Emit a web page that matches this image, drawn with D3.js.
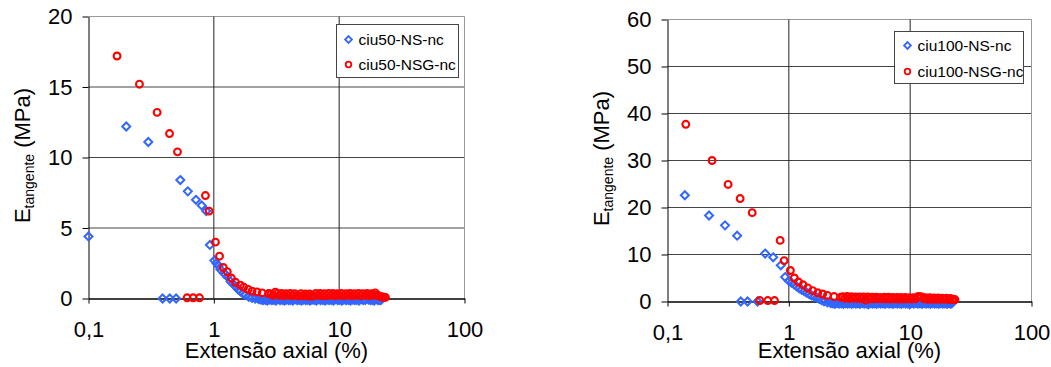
<!DOCTYPE html>
<html>
<head>
<meta charset="utf-8">
<script src="https://cdn.jsdelivr.net/npm/d3@7"></script>
<style>
  body { margin: 0; background: #fff; }
  svg { display: block; font-family: "Liberation Sans", Arial, sans-serif; }
</style>
</head>
<body>
<svg id="canvas" width="1051" height="367"></svg>
<script>
// tick values / labels
let xTicks = [0.1, 1, 10, 100];
let xTickLabels = ['0,1', '1', '10', '100'];
let yTicks50 = [0, 5, 10, 15, 20];
let yTicks100 = [0, 10, 20, 30, 40, 50, 60];

// ciu50 - NS (blue diamonds)
let ns50X = [0.1, 0.2, 0.3, 0.39, 0.445, 0.5, 0.54, 0.62, 0.72, 0.8, 0.87, 0.93, 1.01, 1.05, 1.09, 1.13, 1.2, 1.24, 1.28,
  1.36, 1.42, 1.49, 1.56, 1.63, 1.71, 1.79, 1.9, 2.02, 2.14, 2.28,
  2.38, 2.47, 2.58, 2.67, 2.79, 2.9, 3.01, 3.13, 3.26, 3.38, 3.52, 3.66, 3.8, 3.96, 4.1, 4.27, 4.45, 4.62, 4.8, 5.0,
  5.2, 5.41, 5.62, 5.85, 6.07, 6.2, 6.32, 6.58, 6.84, 7.1, 7.4, 7.7, 8.0, 8.32, 8.66, 9.0, 9.35, 9.73, 10.1, 10.5,
  10.9, 11.35, 11.8, 12.3, 12.8, 13.3, 13.8, 14.4, 15.0, 15.6, 16.2, 16.7, 17.2, 17.8, 18.4, 19.0, 19.7, 20.4, 21.0, 21.5];
let ns50Y = [4.4, 12.2, 11.1, 0, 0, 0, 8.4, 7.6, 7.0, 6.6, 6.2, 3.8, 2.7, 2.5, 2.3, 2.05, 1.8, 1.7, 1.55,
  1.2, 1.05, 0.85, 0.65, 0.5, 0.35, 0.25, 0.12, 0.05, 0, -0.05,
  -0.08, -0.12, -0.1, -0.15, -0.08, -0.12, -0.1, -0.15, -0.05, -0.12, -0.1, -0.15, -0.08, -0.12, -0.1, -0.15, -0.05, -0.12, -0.1, -0.15,
  -0.08, -0.12, -0.1, -0.15, -0.08, 0.2, -0.1, -0.15, -0.05, -0.12, -0.1, -0.15, -0.08, -0.12, -0.1, -0.15, -0.05, -0.12, -0.1, -0.15,
  -0.08, -0.12, -0.1, -0.15, -0.08, -0.12, -0.1, -0.15, -0.05, -0.12, -0.1, 0.25, -0.08, -0.12, -0.1, -0.15, -0.05, -0.12, -0.1, -0.12];

// ciu50 - NSG (red circles)
let nsg50X = [0.169, 0.255, 0.353, 0.443, 0.513, 0.612, 0.684, 0.768, 0.857, 0.917, 1.03, 1.11, 1.19, 1.28, 1.38,
  1.49, 1.63, 1.73, 1.88, 2.02, 2.21, 2.43, 2.74,
  2.86, 2.97, 3.1, 3.22, 3.35, 3.48, 3.62, 3.77, 3.92, 4.08, 4.24, 4.41, 4.58, 4.77, 4.96, 5.15, 5.36, 5.57, 5.8, 6.03,
  6.27, 6.52, 6.78, 7.05, 7.33, 7.62, 7.93, 8.25, 8.58, 8.92, 9.28, 9.65, 10.0, 10.4, 10.85, 11.3, 11.75, 12.2, 12.7, 13.2,
  13.7, 14.3, 14.85, 15.45, 16.1, 16.7, 17.4, 18.1, 18.8, 19.4, 20.0, 20.6, 21.2, 21.8, 22.4, 22.9, 23.4];
let nsg50Y = [17.2, 15.2, 13.2, 11.7, 10.4, 0.05, 0.05, 0.05, 7.3, 6.2, 4.0, 3.0, 2.2, 1.9, 1.45,
  1.15, 0.95, 0.8, 0.65, 0.52, 0.47, 0.4, 0.35,
  0.32, 0.22, 0.45, 0.35, 0.22, 0.36, 0.2, 0.34, 0.22, 0.36, 0.2, 0.34, 0.22, 0.18, 0.34, 0.2, 0.32, 0.18, 0.32, 0.16,
  0.2, 0.36, 0.22, 0.36, 0.2, 0.34, 0.2, 0.36, 0.22, 0.36, 0.2, 0.34, 0.22, 0.36, 0.2, 0.34, 0.22, 0.36, 0.2, 0.34,
  0.22, 0.36, 0.2, 0.34, 0.22, 0.36, 0.2, 0.34, 0.22, 0.4, 0.25, 0.2, 0.15, 0.12, 0.1, 0.1, 0.08];

// ciu100 - NS (blue diamonds)
let ns100X = [0.139, 0.22, 0.298, 0.375, 0.402, 0.457, 0.552, 0.638, 0.743, 0.859, 0.932, 1.0, 1.05, 1.11, 1.16, 1.22, 1.28, 1.34,
  1.4, 1.47, 1.54, 1.62, 1.7, 1.78, 1.86, 1.95, 2.08, 2.22,
  2.31, 2.4, 2.5, 2.6, 2.71, 2.82, 2.93, 3.05, 3.17, 3.3, 3.43, 3.57, 3.71, 3.86, 4.02, 4.18, 4.35, 4.52, 4.7, 4.89,
  5.08, 5.29, 5.5, 5.72, 5.95, 6.19, 6.44, 6.7, 6.96, 7.24, 7.53, 7.83, 8.15, 8.47, 8.81, 9.17, 9.53, 9.91, 10.3, 10.7,
  11.15, 11.6, 12.05, 12.55, 13.05, 13.55, 14.1, 14.7, 15.3, 15.9, 16.5, 17.2, 17.9, 18.6, 19.3, 20.1, 20.9, 21.5, 22.0];
let ns100Y = [22.6, 18.3, 16.2, 14.0, 0, 0, 0, 10.2, 9.4, 7.7, 5.2, 4.4, 4.0, 3.6, 3.2, 2.8, 2.5, 2.2,
  1.9, 1.6, 1.3, 1.06, 0.8, 0.57, 0.3, 0.06, -0.2, -0.36,
  -0.4, -0.5, -0.35, -0.45, -0.4, -0.5, -0.35, -0.45, -0.4, -0.5, -0.35, -0.45, -0.4, -0.5, -0.35, -0.45, -0.4, -0.6, -0.35, -0.45,
  -0.4, -0.5, -0.35, -0.45, -0.4, -0.5, -0.35, -0.45, -0.4, -0.5, -0.35, -0.45, -0.4, -0.5, -0.35, -0.45, -0.4, -0.6, -0.35, -0.45,
  -0.35, -0.45, -0.4, -0.5, -0.35, -0.45, -0.4, -0.5, -0.35, -0.45, -0.4, -0.5, -0.35, -0.45, -0.4, -0.5, -0.35, -0.45, -0.4];

// ciu100 - NSG (red circles)
let nsg100X = [0.1415, 0.233, 0.316, 0.397, 0.499, 0.576, 0.671, 0.762, 0.848, 0.915, 1.03, 1.11, 1.2, 1.31, 1.43,
  1.57, 1.73, 1.9, 2.08, 2.36, 2.68,
  2.79, 2.9, 3.02, 3.14, 3.27, 3.4, 3.54, 3.68, 3.83, 3.98, 4.14, 4.31, 4.48, 4.66, 4.85, 5.04, 5.24, 5.45, 5.67, 5.9,
  6.14, 6.38, 6.64, 6.9, 7.18, 7.47, 7.77, 8.08, 8.4, 8.74, 9.09, 9.45, 9.83, 10.2, 10.6, 11.05, 11.5, 11.95, 12.45, 12.95,
  13.45, 14.0, 14.55, 15.15, 15.75, 16.4, 17.05, 17.7, 18.4, 19.15, 19.9, 20.7, 21.5, 22.3, 22.9, 23.4];
let nsg100Y = [37.7, 30.0, 24.9, 21.9, 18.9, 0.2, 0.2, 0.2, 13.0, 8.7, 6.6, 5.0, 4.15, 3.55, 2.9,
  2.3, 1.85, 1.6, 1.3, 1.05, 0.9,
  1.0, 0.7, 1.05, 0.65, 1.0, 0.7, 0.95, 0.65, 0.95, 0.6, 0.95, 0.3, 0.95, 0.6, 0.9, 0.55, 0.9, 0.6, 0.85, 0.55,
  0.9, 0.55, 0.9, 0.5, 0.85, 0.55, 0.85, 0.5, 0.85, 0.5, 0.85, 0.55, 0.8, 0.5, 0.8, 0.55, 1.0, 1.05, 0.95, 0.55,
  0.8, 0.45, 0.8, 0.45, 0.75, 0.45, 0.75, 0.45, 0.7, 0.45, 0.7, 0.4, 0.65, 0.4, 0.5, 0.4];

let blue = '#3366ff';
let red = '#ff0000';

let canvas = d3.select('#canvas');

let diamond = (s) => `M0,${-s}L${s},0L0,${s}L${-s},0Z`;

let drawChart = (cfg) => {
    let xScale = d3.scaleLog().domain([0.1, 100]).range([cfg.left, cfg.right]);
    let yScale = d3.scaleLinear().domain([0, cfg.yMax]).range([cfg.bottom, cfg.top]);

    let g = canvas.append('g').attr('transform', 'translate(0.5,0.5)');

    // horizontal gridlines (top one is the plot border)
    g.selectAll('.hgrid')
        .data(cfg.yTicks.filter((d) => d > 0))
        .enter()
        .append('line')
        .attr('x1', cfg.left).attr('x2', cfg.right)
        .attr('y1', (d) => yScale(d)).attr('y2', (d) => yScale(d))
        .attr('stroke', (d) => d === cfg.yMax ? '#999' : '#444');

    // vertical gridlines (100 is the plot border)
    g.selectAll('.vgrid')
        .data(xTicks.filter((d) => d > 0.1))
        .enter()
        .append('line')
        .attr('y1', cfg.top).attr('y2', cfg.bottom)
        .attr('x1', (d) => xScale(d)).attr('x2', (d) => xScale(d))
        .attr('stroke', (d) => d === 100 ? '#999' : '#222');

    let yAxis = d3.axisLeft(yScale).tickValues(cfg.yTicks).tickSize(6).tickSizeOuter(0).tickPadding(10);
    let xAxis = d3.axisBottom(xScale).tickValues(xTicks)
        .tickFormat((d, i) => xTickLabels[i])
        .tickSize(5).tickSizeOuter(0).tickPadding(18);

    let ya = g.append('g').attr('transform', `translate(${cfg.left},0)`).call(yAxis);
    let xa = g.append('g').attr('transform', `translate(0,${cfg.bottom})`).call(xAxis);
    [ya, xa].forEach((a) => {
        a.selectAll('text').style('font-size', '22px').style('font-family', '"Liberation Sans", Arial, sans-serif').attr('fill', '#000');
        a.selectAll('line').attr('stroke', '#000');
        a.select('.domain').attr('stroke', '#000');
    });
    xa.select('.domain').attr('stroke-width', 1.5);

    // series
    g.selectAll('.ns')
        .data(d3.zip(cfg.nsX, cfg.nsY))
        .enter()
        .append('path')
        .attr('d', diamond(4))
        .attr('transform', (d) => `translate(${xScale(d[0])},${yScale(d[1])})`)
        .attr('fill', 'none')
        .attr('stroke', blue)
        .attr('stroke-width', 2);

    g.selectAll('.nsg')
        .data(d3.zip(cfg.nsgX, cfg.nsgY))
        .enter()
        .append('circle')
        .attr('cx', (d) => xScale(d[0]))
        .attr('cy', (d) => yScale(d[1]))
        .attr('r', 3.4)
        .attr('fill', 'none')
        .attr('stroke', red)
        .attr('stroke-width', 2.1);

    // legend
    let lg = g.append('g');
    lg.append('rect')
        .attr('x', cfg.legend[0]).attr('y', cfg.legend[1])
        .attr('width', cfg.legend[2]).attr('height', cfg.legend[3])
        .attr('fill', '#fff').attr('stroke', '#444');
    lg.append('path')
        .attr('d', diamond(3.4))
        .attr('transform', `translate(${cfg.legendMarkX},${cfg.legendRows[0]})`)
        .attr('fill', 'none').attr('stroke', blue).attr('stroke-width', 1.8);
    lg.append('circle')
        .attr('cx', cfg.legendMarkX).attr('cy', cfg.legendRows[1]).attr('r', 2.8)
        .attr('fill', 'none').attr('stroke', red).attr('stroke-width', 1.8);
    lg.selectAll('text')
        .data(cfg.names)
        .enter()
        .append('text')
        .text((d) => d)
        .attr('x', cfg.legendTextX)
        .attr('y', (d, i) => cfg.legendRows[i])
        .attr('dy', '0.36em')
        .style('font-size', '15.5px');

    // axis titles
    g.append('text')
        .text('Extensão axial (%)')
        .attr('x', (cfg.left + cfg.right) / 2)
        .attr('y', cfg.xTitleY)
        .attr('text-anchor', 'middle')
        .style('font-size', '22px');

    let yt = g.append('text')
        .attr('transform', `translate(${cfg.yTitleX},${(cfg.top + cfg.bottom) / 2 - 2}) rotate(-90)`)
        .attr('text-anchor', 'middle')
        .style('font-size', '22px')
        .style('white-space', 'pre');
    yt.append('tspan').text('E');
    yt.append('tspan').text('tangente').style('font-size', '14px').attr('dy', 4);
    yt.append('tspan').text(' (MPa)').attr('dy', -4);
};

drawChart({
    left: 88, right: 464, top: 16, bottom: 298, yMax: 20, yTicks: yTicks50,
    nsX: ns50X, nsY: ns50Y, nsgX: nsg50X, nsgY: nsg50Y,
    names: ['ciu50-NS-nc', 'ciu50-NSG-nc'],
    legend: [336, 24, 122, 53], legendRows: [39, 64], legendMarkX: 348, legendTextX: 358,
    xTitleY: 357, yTitleX: 29
});

drawChart({
    left: 667, right: 1031, top: 19, bottom: 301, yMax: 60, yTicks: yTicks100,
    nsX: ns100X, nsY: ns100Y, nsgX: nsg100X, nsgY: nsg100Y,
    names: ['ciu100-NS-nc', 'ciu100-NSG-nc'],
    legend: [894, 31, 129, 52], legendRows: [45, 71], legendMarkX: 907, legendTextX: 917,
    xTitleY: 357, yTitleX: 608
});
</script>
</body>
</html>
